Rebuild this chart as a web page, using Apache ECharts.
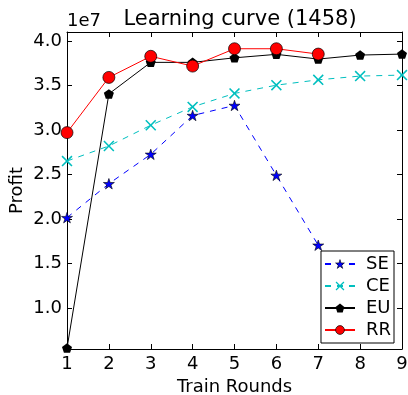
<!DOCTYPE html>
<html>
<head>
<meta charset="utf-8">
<script src="https://cdn.jsdelivr.net/npm/echarts@6/dist/echarts.min.js"></script>
<style>
  html, body { margin: 0; padding: 0; background: #fff; }
  #chart { width: 408px; height: 395px; }
</style>
</head>
<body>
<div id="chart"></div>
<script>
// Learning curve (1458) — profit per training round, values in units of 1e7
const rounds = [1, 2, 3, 4, 5, 6, 7, 8, 9]
const seValues = [2.015, 2.396, 2.726, 3.162, 3.275, 2.49, 1.705]
const ceValues = [2.651, 2.82, 3.053, 3.259, 3.41, 3.503, 3.563, 3.605, 3.616]
const euValues = [0.55, 3.405, 3.759, 3.759, 3.81, 3.849, 3.796, 3.841, 3.852]
const rrValues = [2.97, 3.59, 3.827, 3.717, 3.912, 3.912, 3.852]
const yTicks = [1.0, 1.5, 2.0, 2.5, 3.0, 3.5, 4.0]

const SCALE = 1e7
const FONT = 'DejaVu Sans'

const STAR = 'path://M50,0L61.17,34.63L97.55,34.55L68.07,55.87L79.39,90.45L50,69L20.61,90.45L31.93,55.87L2.45,34.55L38.83,34.63Z'
const CROSS = 'path://M0,1L1,0L5,4L9,0L10,1L6,5L10,9L9,10L5,6L1,10L0,9L4,5Z'
const PENTAGON = 'path://M50,0L100,36.3L80.9,95.1L19.1,95.1L0,36.3Z'

const toData = (vals) => vals.map((v, i) => [rounds[i], v * SCALE])
const tickValues = yTicks.map((v) => v * SCALE)

const chart = echarts.init(document.getElementById('chart'), null, { renderer: 'canvas' })

const frameAxis = { lineStyle: { color: '#000', width: 1 } }
const inTick = { inside: true, length: 5, lineStyle: { color: '#000', width: 1 } }
const labelFont = { fontFamily: FONT, fontSize: 18, color: '#000' }

const seStyle = { color: '#0000ff', borderColor: '#000', borderWidth: 0.6 }
const ceStyle = { color: '#00bfbf' }
const euStyle = { color: '#000' }
const rrStyle = { color: '#ff0000', borderColor: '#000', borderWidth: 0.7 }

chart.setOption({
  animation: false,
  backgroundColor: '#fff',
  textStyle: { fontFamily: FONT },
  title: {
    text: 'Learning curve (1458)',
    left: 235, top: 4, textAlign: 'center',
    textStyle: { fontFamily: FONT, fontSize: 21, fontWeight: 'normal', color: '#000' },
  },
  graphic: [{
    type: 'text', left: 67, top: 12,
    style: { text: '1e7', font: '18px "DejaVu Sans"', fill: '#000' },
  }],
  grid: { left: 67, right: 6, top: 32, bottom: 46, containLabel: false, outerBoundsMode: 'none' },
  legend: {
    orient: 'vertical', right: 14, bottom: 52,
    itemWidth: 30, itemHeight: 11, itemGap: 4,
    padding: [4, 3, 4, 3],
    borderColor: '#000', borderWidth: 1, borderRadius: 0,
    backgroundColor: '#fff',
    textStyle: { ...labelFont, padding: [0, 0, 0, 6] },
    data: [
      { name: 'SE', itemStyle: seStyle },
      { name: 'CE', itemStyle: ceStyle },
      { name: 'EU', itemStyle: euStyle },
      { name: 'RR', itemStyle: rrStyle },
    ],
  },
  xAxis: [{
    type: 'value', min: 1, max: 9, interval: 1,
    name: 'Train Rounds', nameLocation: 'middle', nameGap: 29, nameMoveOverlap: false,
    nameTextStyle: { ...labelFont },
    axisLine: frameAxis, axisTick: inTick, splitLine: { show: false },
    axisLabel: { ...labelFont, margin: 6 },
  }, {
    type: 'value', position: 'top', min: 1, max: 9, interval: 1,
    axisLine: frameAxis, axisTick: inTick, splitLine: { show: false },
    axisLabel: { show: false },
  }],
  yAxis: [{
    type: 'value', min: 0.54 * SCALE, max: 4.1 * SCALE,
    name: 'Profit', nameLocation: 'middle', nameGap: 41, nameMoveOverlap: false,
    nameTextStyle: { ...labelFont },
    axisLine: frameAxis, splitLine: { show: false },
    axisTick: { ...inTick, customValues: tickValues },
    axisLabel: {
      ...labelFont, margin: 5,
      customValues: tickValues,
      formatter: (v) => (v / SCALE).toFixed(1),
    },
  }, {
    type: 'value', position: 'right', min: 0.54 * SCALE, max: 4.1 * SCALE,
    axisLine: frameAxis, splitLine: { show: false },
    axisTick: { ...inTick, customValues: tickValues },
    axisLabel: { show: false, customValues: tickValues },
  }],
  series: [{
    name: 'SE', type: 'line', data: toData(seValues),
    symbol: STAR, symbolSize: 11, symbolKeepAspect: true,
    itemStyle: seStyle,
    lineStyle: { color: '#0000ff', width: 1, type: [6, 6] },
    z: 2,
  }, {
    name: 'CE', type: 'line', data: toData(ceValues),
    symbol: CROSS, symbolSize: 11,
    itemStyle: ceStyle,
    lineStyle: { color: '#00bfbf', width: 1, type: [6, 6] },
    z: 3,
  }, {
    name: 'EU', type: 'line', data: toData(euValues),
    symbol: PENTAGON, symbolSize: 10, symbolKeepAspect: true,
    itemStyle: euStyle,
    lineStyle: { color: '#000', width: 1 },
    z: 4,
  }, {
    name: 'RR', type: 'line', data: toData(rrValues),
    symbol: 'circle', symbolSize: 12,
    itemStyle: rrStyle,
    lineStyle: { color: '#ff0000', width: 1 },
    z: 5,
  }],
})
</script>
</body>
</html>
